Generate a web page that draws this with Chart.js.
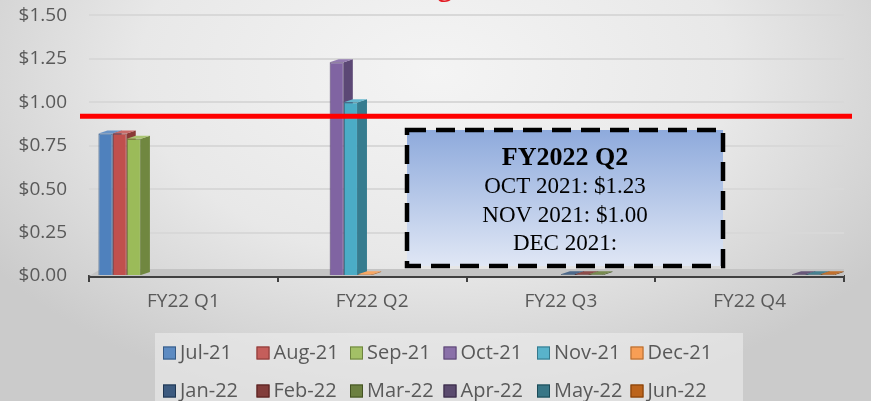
<!DOCTYPE html>
<html>
<head>
<meta charset="utf-8">
<script src="https://cdn.jsdelivr.net/npm/chart.js@4.4.0/dist/chart.umd.min.js"></script>
<style>
  html, body { margin: 0; padding: 0; }
  body {
    width: 871px; height: 401px; overflow: hidden;
    background: radial-gradient(ellipse 62% 85% at 50% 18%, #f4f4f4 0%, #e8e8e8 55%, #cbcbcb 100%);
  }
  canvas { display: block; }
</style>
</head>
<body>
<canvas id="chart" width="871" height="401"></canvas>
<script>
const quarters = ["FY22 Q1", "FY22 Q2", "FY22 Q3", "FY22 Q4"];
const months = ["Jul-21", "Aug-21", "Sep-21", "Oct-21", "Nov-21", "Dec-21",
                "Jan-22", "Feb-22", "Mar-22", "Apr-22", "May-22", "Jun-22"];
// one value per month, each month sits in its own quarter
const monthValues = [0.82, 0.82, 0.79, 1.23, 1.00, 0.01, 0.01, 0.01, 0.01, 0.01, 0.01, 0.01];
const monthColors = ["#4f81bd", "#c0504d", "#9bbb59", "#8064a2", "#4bacc6", "#f79646",
                     "#2c4d75", "#772c2a", "#5f7530", "#4d3b62", "#276a7c", "#b65708"];
const yTicks = [0, 0.25, 0.5, 0.75, 1.0, 1.25, 1.5];
const targetPrice = 0.92;
const chartTitle = "Surcharge Rate";
const noteTitle = "FY2022 Q2";
const noteLines = ["OCT 2021: $1.23", "NOV 2021: $1.00", "DEC 2021:"];

function shade(hex, f) {
  const n = parseInt(hex.slice(1), 16);
  const c = [(n >> 16) & 255, (n >> 8) & 255, n & 255].map((v) =>
    Math.max(0, Math.min(255, Math.round(f > 1 ? v + (255 - v) * (f - 1) : v * f)))
  );
  return "rgb(" + c.join(",") + ")";
}

const datasets = months.map((m, i) => ({
  label: m,
  data: quarters.map((q, qi) => (qi === Math.floor(i / 3) ? monthValues[i] : null)),
  backgroundColor: monthColors[i],
  borderColor: shade(monthColors[i], 0.7),
  borderWidth: 1,
  barPercentage: 1,
  categoryPercentage: 0.9,
}));

// floor and 3d side faces, drawn behind the bar fronts
const depthPlugin = {
  id: "depth",
  beforeDatasetsDraw(chart) {
    const { ctx, chartArea: a } = chart;
    ctx.save();
    ctx.fillStyle = "#c4c4c4";
    ctx.beginPath();
    ctx.moveTo(a.left, a.bottom);
    ctx.lineTo(a.left + 12, a.bottom - 7);
    ctx.lineTo(a.right, a.bottom - 7);
    ctx.lineTo(a.right, a.bottom);
    ctx.fill();
    chart.data.datasets.forEach((ds, i) => {
      chart.getDatasetMeta(i).data.forEach((bar, j) => {
        if (ds.data[j] == null) return;
        const l = bar.x - bar.width / 2, r = bar.x + bar.width / 2;
        const d = 9, dy = 3;
        ctx.fillStyle = shade(ds.backgroundColor, 0.72);
        ctx.beginPath();
        ctx.moveTo(r, bar.y);
        ctx.lineTo(r + d, bar.y - dy);
        ctx.lineTo(r + d, bar.base - dy);
        ctx.lineTo(r, bar.base);
        ctx.fill();
        ctx.fillStyle = shade(ds.backgroundColor, 1.15);
        ctx.beginPath();
        ctx.moveTo(l, bar.y);
        ctx.lineTo(l + d, bar.y - dy);
        ctx.lineTo(r + d, bar.y - dy);
        ctx.lineTo(r, bar.y);
        ctx.fill();
      });
    });
    ctx.restore();
  },
};

// red target line, note box, title and legend
const overlayPlugin = {
  id: "overlay",
  afterDraw(chart) {
    const { ctx, chartArea: a, scales } = chart;
    ctx.save();

    // title, mostly off the top edge
    ctx.fillStyle = "#e31b23";
    ctx.font = "bold 30px 'Liberation Serif'";
    ctx.textAlign = "center";
    ctx.textBaseline = "alphabetic";
    ctx.fillText(chartTitle, 433, -4);

    // target line
    const ty = scales.y.getPixelForValue(targetPrice);
    ctx.strokeStyle = "#ff0000";
    ctx.lineWidth = 5;
    ctx.beginPath();
    ctx.moveTo(a.left - 9, ty);
    ctx.lineTo(a.right + 8, ty);
    ctx.stroke();

    // note box
    const bx = 407, by = 130, bw = 316, bh = 136;
    const g = ctx.createLinearGradient(0, by, 0, by + bh);
    g.addColorStop(0, "#8eaadc");
    g.addColorStop(1, "#e0e7f5");
    ctx.fillStyle = g;
    ctx.fillRect(bx, by, bw, bh);
    ctx.strokeStyle = "#000";
    ctx.lineWidth = 4.5;
    ctx.setLineDash([19, 10]);
    ctx.strokeRect(bx, by, bw, bh);
    ctx.setLineDash([]);
    ctx.fillStyle = "#000";
    ctx.textBaseline = "middle";
    ctx.font = "bold 26px 'Liberation Serif'";
    ctx.fillText(noteTitle, bx + bw / 2, 158);
    ctx.font = "23px 'Liberation Serif'";
    noteLines.forEach((t, i) => ctx.fillText(t, bx + bw / 2, 187 + i * 28.5));

    // legend
    ctx.fillStyle = "rgba(236,236,236,0.6)";
    ctx.fillRect(155, 333, 588, 68);
    ctx.font = "20px 'Open Sans'";
    ctx.textAlign = "left";
    months.forEach((m, i) => {
      const x = 163 + (i % 6) * 93.5;
      const y = 353 + Math.floor(i / 6) * 38;
      ctx.fillStyle = shade(monthColors[i], 1.08);
      ctx.fillRect(x, y - 6.5, 13, 13);
      ctx.strokeStyle = shade(monthColors[i], 0.7);
      ctx.lineWidth = 1;
      ctx.strokeRect(x + 0.5, y - 6, 12, 12);
      ctx.fillStyle = "#595959";
      ctx.fillText(m, x + 17, y);
    });
    ctx.restore();
  },
};

new Chart(document.getElementById("chart"), {
  type: "bar",
  data: { labels: quarters, datasets: datasets },
  options: {
    responsive: false,
    animation: false,
    devicePixelRatio: 1,
    layout: { padding: { top: 0, right: 27, left: 0, bottom: 0 } },
    plugins: { legend: { display: false }, tooltip: { enabled: false } },
    scales: {
      x: {
        afterFit: (s) => { s.height = 125; },
        grid: { display: true, drawOnChartArea: false, drawTicks: true, tickLength: 6, color: "#404040", lineWidth: 2 },
        border: { display: true, color: "#404040", width: 3 },
        ticks: { color: "#595959", font: { family: "Open Sans", size: 19 }, padding: 8 },
      },
      y: {
        min: 0,
        max: 1.5,
        afterFit: (s) => { s.width = 89; },
        afterBuildTicks: (s) => { s.ticks = yTicks.map((v) => ({ value: v })); },
        grid: { color: "#d8d8d8", lineWidth: 2, drawTicks: true, tickLength: 18, tickColor: "rgba(0,0,0,0)" },
        border: { display: false },
        ticks: {
          color: "#595959",
          font: { family: "Open Sans", size: 19 },
          padding: 4,
          callback: (v) => "$" + Number(v).toFixed(2),
        },
      },
    },
  },
  plugins: [depthPlugin, overlayPlugin],
});
</script>
</body>
</html>
